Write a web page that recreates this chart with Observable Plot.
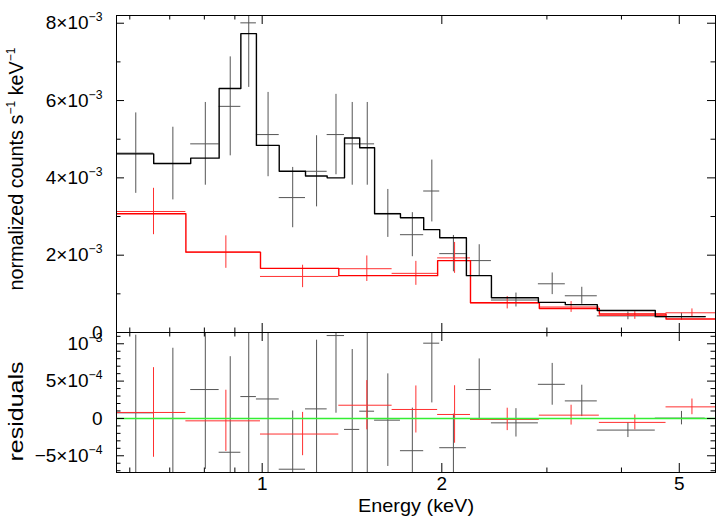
<!DOCTYPE html>
<html>
<head>
<meta charset="utf-8">
<script src="https://cdn.jsdelivr.net/npm/d3@7"></script>
<script src="https://cdn.jsdelivr.net/npm/@observablehq/plot@0.6"></script>
<style>
  html, body { margin: 0; padding: 0; background: #fff; }
  #chart { position: relative; width: 716px; height: 523px; background: #fff; overflow: hidden; }
  #chart svg { position: absolute; left: 0; }
</style>
</head>
<body>
<div id="chart"></div>
<script>
// ---------------- data ----------------
// energy bin edges (keV)
const blackEdges = [0.570, 0.658, 0.759, 0.847, 0.921, 0.978, 1.068, 1.182, 1.285, 1.374, 1.457, 1.543, 1.705, 1.865, 1.984, 2.199, 2.422, 2.903, 3.221, 3.644, 4.558, 5.527];
// normalized counts (units of 1e-3 counts/s/keV)
const blackData  = [4.64, 4.37, 4.88, 5.85, 8.01, 5.12, 3.49, 4.17, 5.12, 4.88, 4.88, 3.08, 2.53, 3.66, 2.04, 1.86, 0.84, 1.26, 0.95, 0.43, 0.41];
const blackErr   = [1.04, 0.94, 1.07, 1.28, 1.67, 1.09, 0.78, 0.92, 1.04, 1.07, 1.07, 0.62, 0.57, 0.80, 0.47, 0.41, 0.18, 0.28, 0.22, 0.10, 0.09];
const blackModel = [4.62, 4.37, 4.51, 6.31, 7.73, 4.84, 4.17, 4.05, 4.00, 5.03, 4.78, 3.07, 2.97, 2.66, 2.45, 1.47, 0.90, 0.78, 0.72, 0.57, 0.41];
// residuals (units of 1e-4)
const blackResid    = [0.75, 0.0, 3.87, -4.53, 2.93, 2.61, -6.8, 1.28, 11.1, -1.47, 0.97, -0.23, -4.32, 10.08, -3.92, 3.87, -0.59, 4.57, 2.35, -1.56, 0.04];
const blackResidErr = [10.4, 9.4, 10.7, 12.8, 16.7, 10.9, 7.8, 9.2, 10.4, 10.7, 10.7, 6.2, 5.7, 8.0, 4.5, 4.1, 1.9, 2.8, 2.1, 1.0, 0.9];

const redEdges = [0.570, 0.745, 0.9935, 1.344, 1.651, 1.968, 2.234, 2.914, 3.673, 4.751, 5.75];
const redData  = [3.13, 2.08, 1.45, 1.65, 1.53, 1.93, 0.77, 0.66, 0.44, 0.51];
const redErr   = [0.60, 0.42, 0.29, 0.33, 0.31, 0.40, 0.16, 0.14, 0.10, 0.10];
const redModel = [3.07, 2.08, 1.66, 1.47, 1.47, 1.86, 0.77, 0.62, 0.48, 0.35];
const redResid    = [0.8, -0.32, -2.09, 1.77, 1.2, 0.53, -0.13, 0.44, -0.53, 1.55];
const redResidErr = [6.0, 4.1, 2.9, 3.3, 3.15, 3.85, 1.5, 1.33, 1.0, 1.05];

// axes
const xDomain = [0.570, 5.75];
const xMajorTicks = [1, 2, 5];
const xMajorLabels = ["1", "2", "5"];
const xMinorTicks = [0.6, 0.7, 0.8, 0.9, 3, 4];
const yTopDomain = [0, 8.2e-3];
const yTopMajor = [0, 2e-3, 4e-3, 6e-3, 8e-3];
const yTopLabels = ["0", "2×10^−3", "4×10^−3", "6×10^−3", "8×10^−3"];
const yTopMinor = [1e-3, 3e-3, 5e-3, 7e-3];
const yBotDomain = [-7.24e-4, 1.151e-3];
const yBotMajor = [-5e-4, 0, 5e-4, 1e-3];
const yBotLabels = ["−5×10^−4", "0", "5×10^−4", "10^−3"];
const yBotMinor = [-7e-4, -6e-4, -4e-4, -3e-4, -2e-4, -1e-4, 1e-4, 2e-4, 3e-4, 4e-4, 6e-4, 7e-4, 8e-4, 9e-4, 1.1e-3];
const yTitleTop = "normalized counts s^−1 keV^−1";
const yTitleBot = "residuals";
const xTitle = "Energy (keV)";

// ---------------- tables ----------------
function bins(edges, vals, errs, unit) {
  return vals.map((v, i) => ({
    lo: edges[i], hi: edges[i + 1], e: (edges[i] + edges[i + 1]) / 2,
    v: v * unit, err: errs[i] * unit
  }));
}
function steps(edges, model, unit) {
  return edges.map((e, i) => ({x: e, y: model[Math.min(i, model.length - 1)] * unit}));
}
const blackTop = bins(blackEdges, blackData, blackErr, 1e-3);
const redTop = bins(redEdges, redData, redErr, 1e-3);
const blackBot = bins(blackEdges, blackResid, blackResidErr, 1e-4);
const redBot = bins(redEdges, redResid, redResidErr, 1e-4);
const blackStep = steps(blackEdges, blackModel, 1e-3);
const redStep = steps(redEdges, redModel, 1e-3);

const FONT = "'Liberation Sans', Arial, Helvetica, sans-serif";
const FS = 19, FT = 20;
const W = 716, ML = 116, MR = 1;
const PW = W - ML - MR;

function crosses(table, color) {
  return [
    Plot.ruleX(table, {x: "e", y1: d => d.v - d.err, y2: d => d.v + d.err, stroke: color, strokeWidth: 1, clip: true}),
    Plot.ruleY(table, {y: "v", x1: "lo", x2: "hi", stroke: color, strokeWidth: 1, clip: true})
  ];
}
function frameTicks(PH, yMajor, yMinor) {
  const k = "#000";
  return [
    Plot.tickX(xMajorTicks, {x: d => d, insetTop: PH - 9, stroke: k}),
    Plot.tickX(xMajorTicks, {x: d => d, insetBottom: PH - 9, stroke: k}),
    Plot.tickX(xMinorTicks, {x: d => d, insetTop: PH - 4.5, stroke: k}),
    Plot.tickX(xMinorTicks, {x: d => d, insetBottom: PH - 4.5, stroke: k}),
    Plot.tickY(yMajor, {y: d => d, insetRight: PW - 8, stroke: k}),
    Plot.tickY(yMajor, {y: d => d, insetLeft: PW - 8, stroke: k}),
    Plot.tickY(yMinor, {y: d => d, insetRight: PW - 4.5, stroke: k}),
    Plot.tickY(yMinor, {y: d => d, insetLeft: PW - 4.5, stroke: k})
  ];
}

// ---------------- top panel ----------------
const TH = 333, TMT = 15, TMB = 1;
const topPlot = Plot.plot({
  width: W, height: TH,
  marginLeft: ML, marginRight: MR, marginTop: TMT, marginBottom: TMB,
  x: {type: "log", domain: xDomain, axis: null},
  y: {domain: yTopDomain, axis: null},
  style: {fontFamily: FONT, fontSize: FS + "px", background: "transparent", overflow: "visible", color: "#000"},
  marks: [
    ...crosses(blackTop, "#555"),
    ...crosses(redTop, "#ff3030"),
    Plot.line(redStep, {x: "x", y: "y", curve: "step-after", stroke: "#ff0000", strokeWidth: 1.4, clip: true}),
    Plot.line(blackStep, {x: "x", y: "y", curve: "step-after", stroke: "#000", strokeWidth: 1.4, clip: true}),
    Plot.frame({stroke: "#000", strokeWidth: 1}),
    ...frameTicks(TH - TMT - TMB, yTopMajor, yTopMinor),
    Plot.text(yTopMajor, {y: d => d, text: (d, i) => yTopLabels[i], frameAnchor: "left", textAnchor: "end", dx: -14, fontSize: FS, fill: "#000"}),
    Plot.text([yTitleTop], {text: d => d, frameAnchor: "left", textAnchor: "middle", lineAnchor: "middle", rotate: -90, dx: -100, dy: -5, fontSize: FT, fill: "#000"})
  ]
});

// ---------------- bottom panel ----------------
const BTOP = 331, BH = 192, BMT = 1, BMB = 51;
const botPlot = Plot.plot({
  width: W, height: BH,
  marginLeft: ML, marginRight: MR, marginTop: BMT, marginBottom: BMB,
  x: {type: "log", domain: xDomain, axis: null},
  y: {domain: yBotDomain, axis: null},
  style: {fontFamily: FONT, fontSize: FS + "px", background: "transparent", overflow: "visible", color: "#000"},
  marks: [
    ...crosses(blackBot, "#555"),
    ...crosses(redBot, "#ff3030"),
    Plot.ruleY([0], {stroke: "#33ee33", strokeWidth: 1.6}),
    Plot.frame({stroke: "#000", strokeWidth: 1}),
    ...frameTicks(BH - BMT - BMB, yBotMajor, yBotMinor),
    Plot.text(yBotMajor, {y: d => d, text: (d, i) => yBotLabels[i], frameAnchor: "left", textAnchor: "end", dx: -14, fontSize: FS, fill: "#000"}),
    Plot.text(xMajorTicks, {x: d => d, text: (d, i) => xMajorLabels[i], frameAnchor: "bottom", textAnchor: "middle", dy: 17, fontSize: FS, fill: "#000"}),
    Plot.text([xTitle], {text: d => d, frameAnchor: "bottom", textAnchor: "middle", dy: 39.5, fontSize: FS, fill: "#000"}),
    Plot.text([yTitleBot], {text: d => d, frameAnchor: "left", textAnchor: "middle", lineAnchor: "middle", rotate: -90, dx: -100, dy: 9, fontSize: FT, fill: "#000"})
  ]
});

// ---------------- text post-processing: superscripts, widths ----------------
const NS = "http://www.w3.org/2000/svg";
const textLengths = new Map([[yTitleTop, 243], [yTitleBot, 100], [xTitle, 116]]);
function finishText(svg) {
  svg.querySelectorAll("text").forEach(t => {
    const s = t.textContent;
    if (textLengths.has(s)) {
      t.setAttribute("textLength", textLengths.get(s));
      t.setAttribute("lengthAdjust", "spacingAndGlyphs");
    }
    if (!s.includes("^")) return;
    const parts = s.split(/\^(\S+)/);
    while (t.firstChild) t.removeChild(t.firstChild);
    const shift = FS * 0.42;
    let raised = false;
    parts.forEach((p, i) => {
      if (!p) return;
      const ts = document.createElementNS(NS, "tspan");
      if (i % 2 === 1) {
        ts.setAttribute("font-size", (FS * 0.64).toFixed(1) + "px");
        ts.setAttribute("dy", (-shift).toFixed(1));
        raised = true;
      } else if (raised) {
        ts.setAttribute("dy", shift.toFixed(1));
        raised = false;
      }
      ts.textContent = p;
      t.appendChild(ts);
    });
  });
}
finishText(topPlot);
finishText(botPlot);

topPlot.style.top = "0px";
botPlot.style.top = BTOP + "px";
const chart = document.getElementById("chart");
chart.appendChild(topPlot);
chart.appendChild(botPlot);
</script>
</body>
</html>
